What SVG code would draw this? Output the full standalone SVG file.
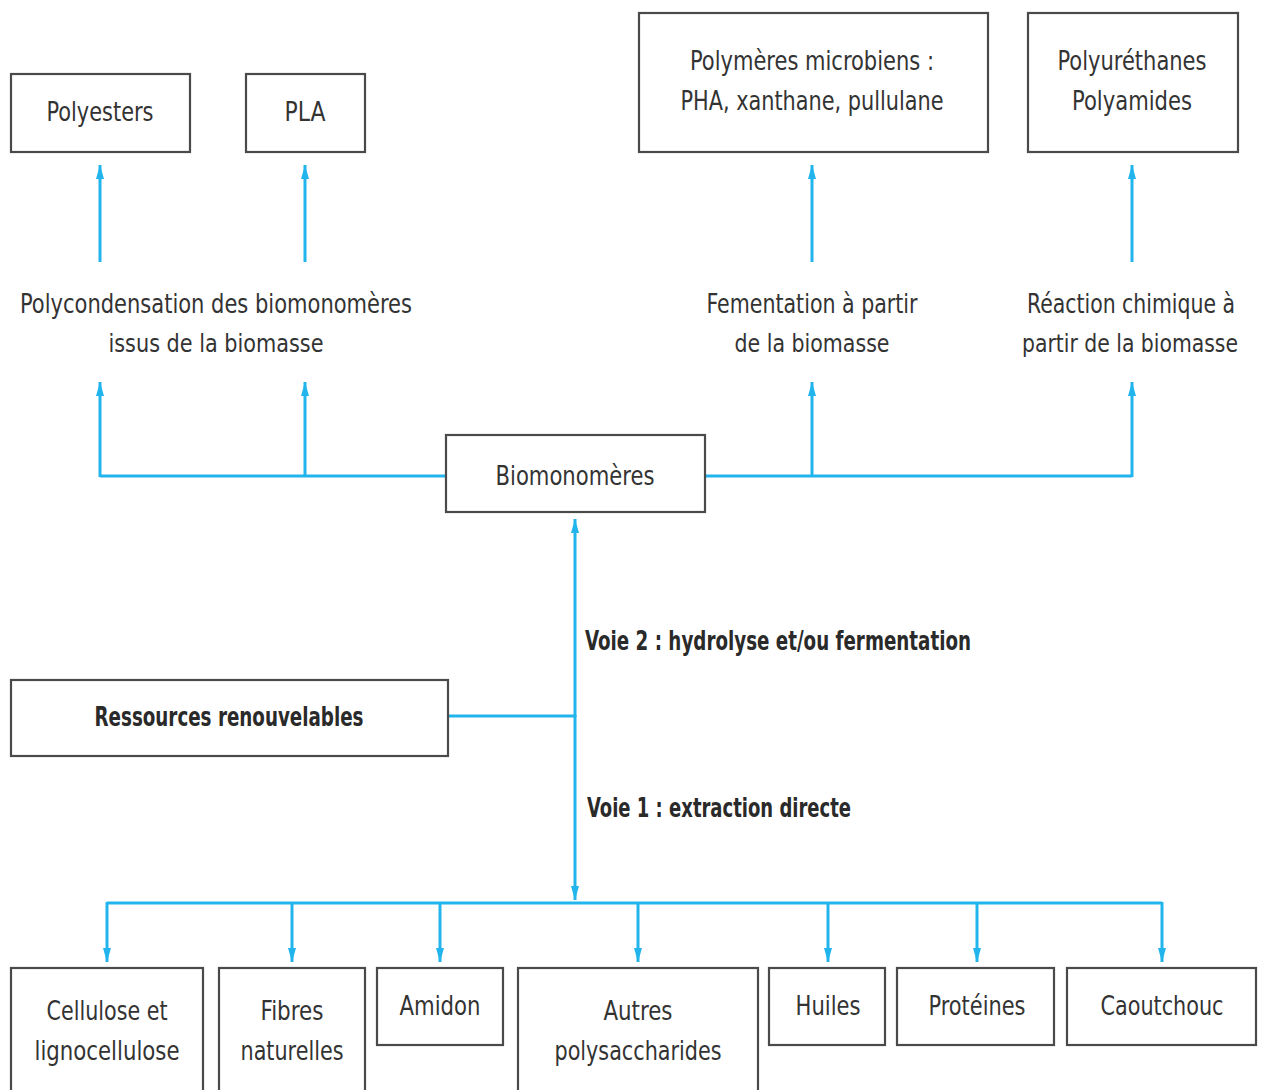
<svg xmlns="http://www.w3.org/2000/svg" width="1264" height="1090" viewBox="0 0 1264 1090">
<style>
.box{fill:#fff;stroke:#4a4a4a;stroke-width:2.2}
.t{font-family:"DejaVu Sans Condensed","Liberation Sans",sans-serif;font-size:27px;fill:#333;text-anchor:middle}
.l{font-family:"DejaVu Sans Condensed","Liberation Sans",sans-serif;font-size:25px;fill:#333;text-anchor:middle}
.b{font-family:"DejaVu Sans Condensed","Liberation Sans",sans-serif;font-size:26px;font-weight:bold;fill:#2a2a2a}
.c{fill:none;stroke:#22b4ec;stroke-width:3}
</style>
<defs>
<marker id="ah" markerUnits="userSpaceOnUse" markerWidth="14" markerHeight="8" refX="14" refY="4" orient="auto">
<path d="M0,0 L14,4 L0,8 z" fill="#22b4ec"/>
</marker>
</defs>
<rect width="1264" height="1090" fill="#fff"/>
<g id="connectors">
<path class="c" d="M100,262 V165" marker-end="url(#ah)"/>
<path class="c" d="M305,262 V165" marker-end="url(#ah)"/>
<path class="c" d="M812,262 V165" marker-end="url(#ah)"/>
<path class="c" d="M1132,262 V165" marker-end="url(#ah)"/>
<path class="c" d="M445,476 H100"/>
<path class="c" d="M705,476 H1132"/>
<path class="c" d="M100,477 V382" marker-end="url(#ah)"/>
<path class="c" d="M305,477 V382" marker-end="url(#ah)"/>
<path class="c" d="M812,477 V382" marker-end="url(#ah)"/>
<path class="c" d="M1132,477 V382" marker-end="url(#ah)"/>
<path class="c" d="M448,716 H575"/>
<path class="c" d="M575,717 V519" marker-end="url(#ah)"/>
<path class="c" d="M575,715 V900" marker-end="url(#ah)"/>
<path class="c" d="M107,903 H1162"/>
<path class="c" d="M107,902 V962" marker-end="url(#ah)"/>
<path class="c" d="M292,902 V962" marker-end="url(#ah)"/>
<path class="c" d="M440,902 V962" marker-end="url(#ah)"/>
<path class="c" d="M638,902 V962" marker-end="url(#ah)"/>
<path class="c" d="M828,902 V962" marker-end="url(#ah)"/>
<path class="c" d="M977,902 V962" marker-end="url(#ah)"/>
<path class="c" d="M1162,902 V962" marker-end="url(#ah)"/>
</g>
<g id="polyesters"><rect class="box" x="11" y="74" width="179" height="78"/><text class="t" x="100" y="121" textLength="107" lengthAdjust="spacingAndGlyphs">Polyesters</text></g>
<g id="pla"><rect class="box" x="246" y="74" width="119" height="78"/><text class="t" x="305" y="121" textLength="41" lengthAdjust="spacingAndGlyphs">PLA</text></g>
<g id="microbiens"><rect class="box" x="639" y="13" width="349" height="139"/><text class="t" x="812" y="70" textLength="244" lengthAdjust="spacingAndGlyphs">Polymères microbiens :</text><text class="t" x="812" y="110" textLength="263" lengthAdjust="spacingAndGlyphs">PHA, xanthane, pullulane</text></g>
<g id="polyurethanes"><rect class="box" x="1028" y="13" width="210" height="139"/><text class="t" x="1132" y="70" textLength="149" lengthAdjust="spacingAndGlyphs">Polyuréthanes</text><text class="t" x="1132" y="110" textLength="120" lengthAdjust="spacingAndGlyphs">Polyamides</text></g>
<g id="label-polycondensation"><text class="t" x="216" y="313" textLength="392" lengthAdjust="spacingAndGlyphs">Polycondensation des biomonomères</text><text class="l" x="216" y="352" textLength="215" lengthAdjust="spacingAndGlyphs">issus de la biomasse</text></g>
<g id="label-fermentation"><text class="t" x="812" y="313" textLength="211" lengthAdjust="spacingAndGlyphs">Fementation à partir</text><text class="l" x="812" y="352" textLength="155" lengthAdjust="spacingAndGlyphs">de la biomasse</text></g>
<g id="label-reaction"><text class="t" x="1131" y="313" font-size="26" textLength="208" lengthAdjust="spacingAndGlyphs">Réaction chimique à</text><text class="l" x="1130" y="352" font-size="24" textLength="216" lengthAdjust="spacingAndGlyphs">partir de la biomasse</text></g>
<g id="biomonomeres"><rect class="box" x="446" y="435" width="259" height="77"/><text class="t" x="575" y="485" textLength="159" lengthAdjust="spacingAndGlyphs">Biomonomères</text></g>
<g id="voie2"><text class="b" x="585" y="650" textLength="386" lengthAdjust="spacingAndGlyphs">Voie 2 : hydrolyse et/ou fermentation</text></g>
<g id="ressources"><rect class="box" x="11" y="680" width="437" height="76"/><text class="b" x="229" y="726" text-anchor="middle" textLength="269" lengthAdjust="spacingAndGlyphs">Ressources renouvelables</text></g>
<g id="voie1"><text class="b" x="587" y="817" textLength="264" lengthAdjust="spacingAndGlyphs">Voie 1 : extraction directe</text></g>
<g id="cellulose"><rect class="box" x="11" y="968" width="192" height="130"/><text class="t" x="107" y="1020" textLength="121" lengthAdjust="spacingAndGlyphs">Cellulose et</text><text class="t" x="107" y="1060" textLength="145" lengthAdjust="spacingAndGlyphs">lignocellulose</text></g>
<g id="fibres"><rect class="box" x="219" y="968" width="146" height="130"/><text class="t" x="292" y="1020" textLength="63" lengthAdjust="spacingAndGlyphs">Fibres</text><text class="t" x="292" y="1060" textLength="103" lengthAdjust="spacingAndGlyphs">naturelles</text></g>
<g id="amidon"><rect class="box" x="377" y="968" width="126" height="77"/><text class="t" x="440" y="1015" textLength="81" lengthAdjust="spacingAndGlyphs">Amidon</text></g>
<g id="autres"><rect class="box" x="518" y="968" width="240" height="130"/><text class="t" x="638" y="1020" textLength="69" lengthAdjust="spacingAndGlyphs">Autres</text><text class="t" x="638" y="1060" textLength="167" lengthAdjust="spacingAndGlyphs">polysaccharides</text></g>
<g id="huiles"><rect class="box" x="769" y="968" width="116" height="77"/><text class="t" x="828" y="1015" textLength="65" lengthAdjust="spacingAndGlyphs">Huiles</text></g>
<g id="proteines"><rect class="box" x="897" y="968" width="157" height="77"/><text class="t" x="977" y="1015" textLength="97" lengthAdjust="spacingAndGlyphs">Protéines</text></g>
<g id="caoutchouc"><rect class="box" x="1067" y="968" width="189" height="77"/><text class="t" x="1162" y="1015" textLength="123" lengthAdjust="spacingAndGlyphs">Caoutchouc</text></g>
</svg>
